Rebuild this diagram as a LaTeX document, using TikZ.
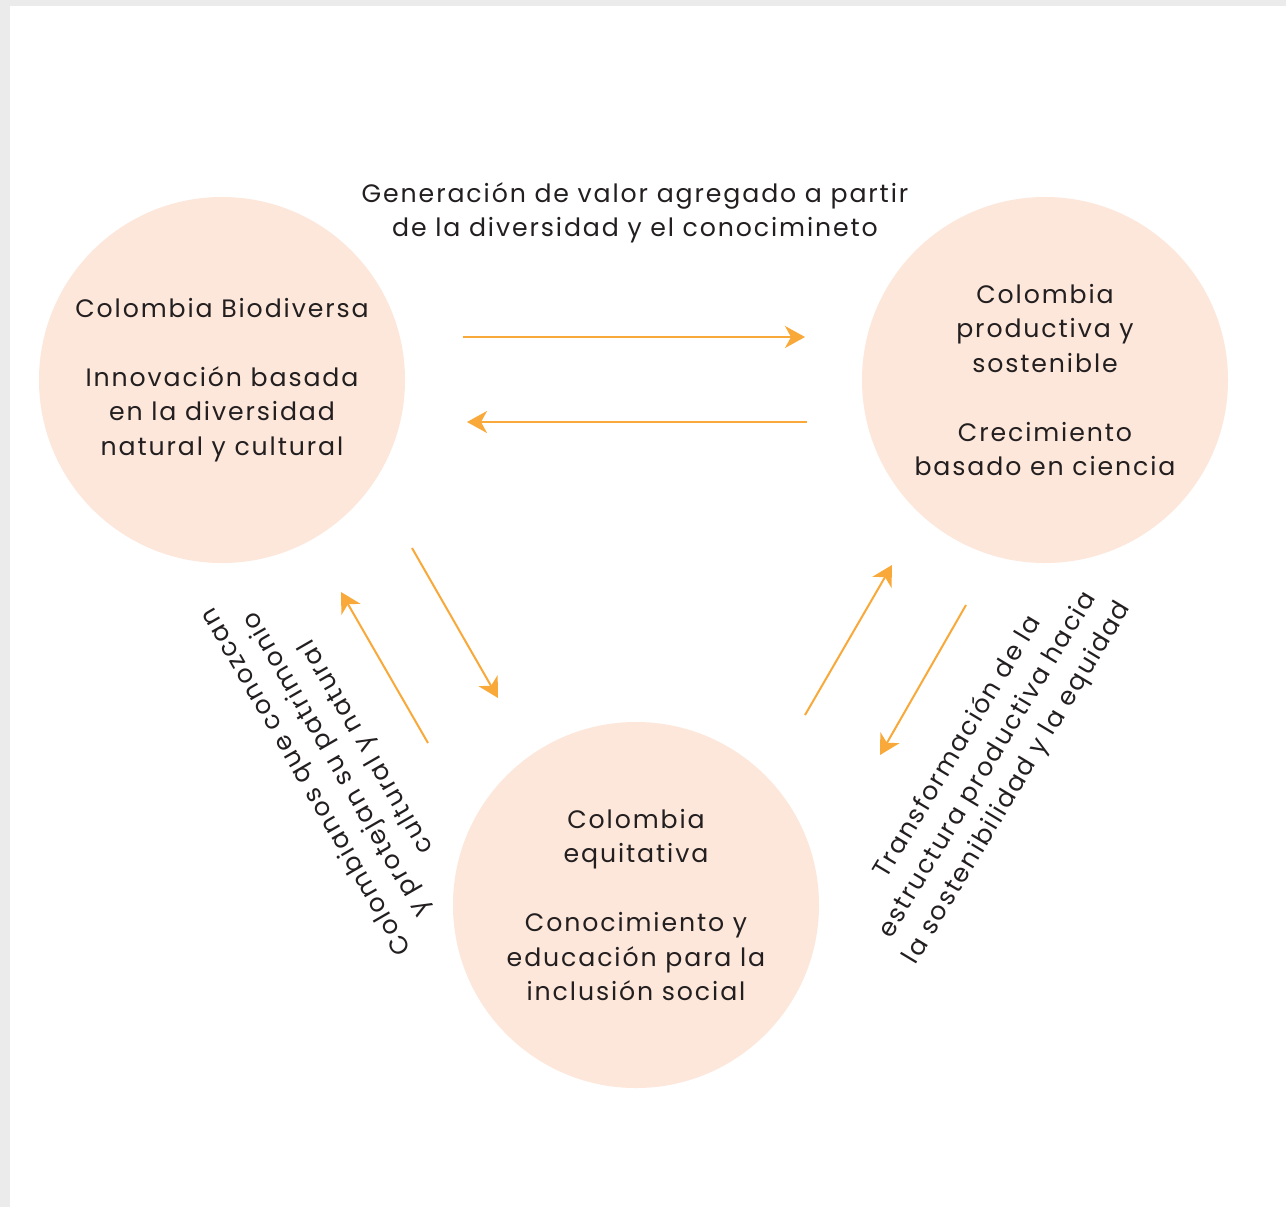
\documentclass[tikz,border=0pt]{standalone}
\usepackage{fontspec}
\setmainfont{Poppins}[LetterSpace=7.5]
\usetikzlibrary{arrows.meta}
\definecolor{peach}{HTML}{FDE7DA}
\definecolor{arrowor}{HTML}{F9A93A}
\definecolor{txt}{HTML}{231F20}
\definecolor{frame}{HTML}{EBEBEB}
\tikzset{
  blob/.style={circle,fill=peach,minimum size=183pt,inner sep=0pt,align=center,text=txt,
    font=\fontsize{12.6}{17.25}\selectfont},
  lbl/.style={align=center,text=txt,font=\fontsize{12.6}{17.25}\selectfont},
  flow/.style={draw=arrowor,line width=1pt,-{Stealth[length=10pt,width=11pt,inset=3pt]}}
}
\begin{document}
\begin{tikzpicture}[x=0.5pt,y=-0.5pt]
\useasboundingbox (0,0) rectangle (1286,1207);
\fill[frame] (0,0) rectangle (1286,1207);
\fill[white] (10,6) rectangle (1286,1207);

\node[blob] (bio) at (222,380) {Colombia Biodiversa\\[17.25pt]Innovación basada\\en la diversidad\\natural y cultural};
\node[blob] (prod) at (1045,380) {Colombia\\productiva y\\sostenible\\[17.25pt]Crecimiento\\basado en ciencia};
\node[blob] (equi) at (636,905) {Colombia\\equitativa\\[17.25pt]Conocimiento y\\educación para la\\inclusión social};

\node[lbl] (top) at (635,213) {Generación de valor agregado a partir\\de la diversidad y el conocimineto};
\node[lbl,rotate=120] (left) at (337,764) {Colombianos que conozcan\\y protejan su patrimonio\\cultural y natural};
\node[lbl,rotate=59] (right) at (988,765) {Transformación de la\\estructura productiva hacia\\la sostenibilidad y la equidad};

\coordinate (a1s) at (463,337); \coordinate (a1e) at (805,337);
\coordinate (a2s) at (807,422); \coordinate (a2e) at (467,422);
\coordinate (a3s) at (412,548); \coordinate (a3e) at (498,698);
\coordinate (a4s) at (428,743); \coordinate (a4e) at (341,592);
\coordinate (a5s) at (805,715); \coordinate (a5e) at (892,565);
\coordinate (a6s) at (966,605); \coordinate (a6e) at (880,755);
\draw[flow] (a1s) -- (a1e);
\draw[flow] (a2s) -- (a2e);
\draw[flow] (a3s) -- (a3e);
\draw[flow] (a4s) -- (a4e);
\draw[flow] (a5s) -- (a5e);
\draw[flow] (a6s) -- (a6e);
\end{tikzpicture}
\end{document}
